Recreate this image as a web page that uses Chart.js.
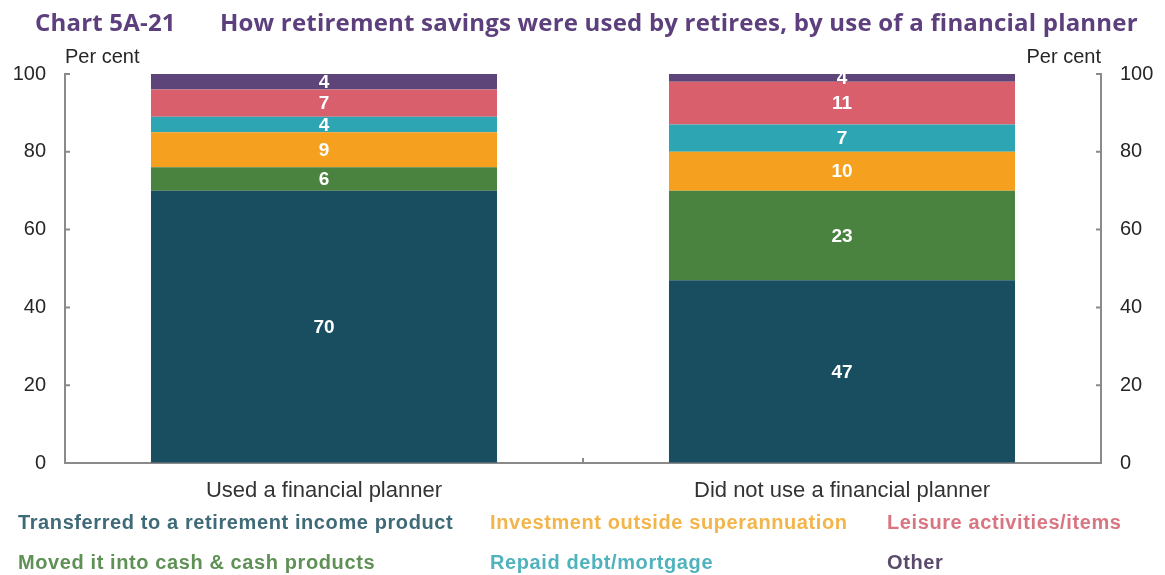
<!DOCTYPE html>
<html>
<head>
<meta charset="utf-8">
<script src="https://cdn.jsdelivr.net/npm/chart.js@4"></script>
<style>
  body { margin: 0; background: #fff; }
  #wrap { position: relative; width: 1165px; height: 575px; overflow: hidden; }
  #chart { position: absolute; left: 0; top: 0; }
  .title { position: absolute; top: 5px; font: bold 24px "Open Sans", sans-serif; color: #5c3f7c; white-space: nowrap; letter-spacing: 0.2px; }
  .leg { position: absolute; font: bold 20px "Liberation Sans", Arial, sans-serif; white-space: nowrap; line-height: 22px; letter-spacing: 0.6px; }
</style>
</head>
<body>
<div id="wrap">
  <canvas id="chart" width="1165" height="575"></canvas>
  <div class="title" style="left:35px">Chart 5A-21</div>
  <div class="title" style="left:220px">How retirement savings were used by retirees, by use of a financial planner</div>
  <div class="leg" style="left:18px;top:511px;color:#3f6a77">Transferred to a retirement income product</div>
  <div class="leg" style="left:18px;top:551px;color:#5f9055">Moved it into cash &amp; cash products</div>
  <div class="leg" style="left:490px;top:511px;color:#f3b44a">Investment outside superannuation</div>
  <div class="leg" style="left:490px;top:551px;color:#4fb2bd">Repaid debt/mortgage</div>
  <div class="leg" style="left:887px;top:511px;color:#d97582">Leisure activities/items</div>
  <div class="leg" style="left:887px;top:551px;color:#5a4a6b">Other</div>
</div>
<script>
const categories = ['Used a financial planner', 'Did not use a financial planner'];
const transferred = [70, 47];
const cash = [6, 23];
const investment = [9, 10];
const debt = [4, 7];
const leisure = [7, 11];
const other = [4, 4];
const yMin = 0, yMax = 100, yStep = 20;

const axisGrey = '#8a8a8a';
const tickFont = { family: 'Liberation Sans, Arial, sans-serif', size: 20 };

// white value in the middle of every stacked segment
const segmentLabels = {
    id: 'segmentLabels',
    afterDatasetsDraw(chart) {
        const ctx = chart.ctx;
        const area = chart.chartArea;
        ctx.save();
        ctx.fillStyle = '#ffffff';
        ctx.font = 'bold 19px "Liberation Sans", Arial, sans-serif';
        ctx.textAlign = 'center';
        ctx.textBaseline = 'middle';
        chart.data.datasets.forEach((ds, i) => {
            chart.getDatasetMeta(i).data.forEach((bar, j) => {
                const top = Math.max(bar.y, area.top);
                const mid = (top + bar.base) / 2;
                ctx.fillText(ds.data[j], bar.x, mid + 1);
            });
        });
        ctx.restore();
    }
};

// short inward ticks on both value axes, category divider tick, and unit labels
const axisDecor = {
    id: 'axisDecor',
    afterDraw(chart) {
        const ctx = chart.ctx;
        const area = chart.chartArea;
        const y = chart.scales.y;
        ctx.save();
        ctx.strokeStyle = axisGrey;
        ctx.lineWidth = 2;
        ctx.beginPath();
        for (let v = yMin; v <= yMax; v += yStep) {
            const py = y.getPixelForValue(v);
            ctx.moveTo(area.left, py); ctx.lineTo(area.left + 5, py);
            ctx.moveTo(area.right, py); ctx.lineTo(area.right - 5, py);
        }
        const midX = (area.left + area.right) / 2;
        ctx.moveTo(midX, area.bottom); ctx.lineTo(midX, area.bottom - 5);
        ctx.stroke();

        ctx.fillStyle = '#262626';
        ctx.font = '20px "Liberation Sans", Arial, sans-serif';
        ctx.textBaseline = 'middle';
        ctx.textAlign = 'left';
        ctx.fillText('Per cent', area.left, 57);
        ctx.textAlign = 'right';
        ctx.fillText('Per cent', area.right, 57);
        ctx.restore();
    }
};

const valueAxis = (position) => ({
    position: position,
    stacked: true,
    min: yMin,
    max: yMax,
    ticks: { stepSize: yStep, color: '#262626', font: tickFont, padding: 19 },
    grid: { drawOnChartArea: false, drawTicks: false },
    border: { color: axisGrey, width: 2 },
    afterFit: (scale) => { scale.width = position === 'left' ? 65 : 64; }
});

new Chart(document.getElementById('chart').getContext('2d'), {
    type: 'bar',
    data: {
        labels: categories,
        datasets: [
            { label: 'Transferred to a retirement income product', data: transferred, backgroundColor: '#184e5f' },
            { label: 'Moved it into cash & cash products', data: cash, backgroundColor: '#4a8240' },
            { label: 'Investment outside superannuation', data: investment, backgroundColor: '#f5a11f' },
            { label: 'Repaid debt/mortgage', data: debt, backgroundColor: '#2ea5b2' },
            { label: 'Leisure activities/items', data: leisure, backgroundColor: '#d95f6d' },
            { label: 'Other', data: other, backgroundColor: '#5d4479' }
        ]
    },
    options: {
        responsive: false,
        animation: false,
        layout: { padding: { top: 74, bottom: 72, left: 0, right: 0 } },
        datasets: { bar: { barPercentage: 0.668, categoryPercentage: 1, borderWidth: 0 } },
        plugins: { legend: { display: false }, tooltip: { enabled: false }, title: { display: false } },
        scales: {
            x: {
                stacked: true,
                grid: { display: false, drawTicks: false },
                border: { color: axisGrey, width: 2 },
                ticks: { color: '#333333', font: { family: 'Liberation Sans, Arial, sans-serif', size: 22 }, padding: 15 },
                afterFit: (scale) => { scale.height = 40; }
            },
            y: valueAxis('left'),
            y2: valueAxis('right')
        }
    },
    plugins: [segmentLabels, axisDecor]
});
</script>
</body>
</html>
